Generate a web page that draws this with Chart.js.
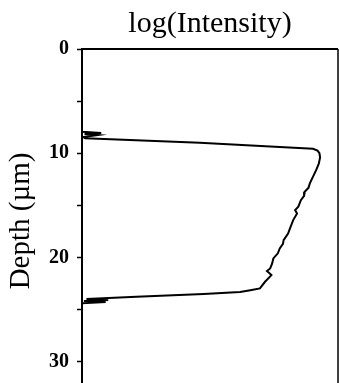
<!DOCTYPE html>
<html>
<head>
<meta charset="utf-8">
<script src="https://cdn.jsdelivr.net/npm/chart.js@4"></script>
<style>
  html, body { margin: 0; padding: 0; background: #fff; overflow: hidden; }
  canvas { display: block; }
</style>
</head>
<body>
<canvas id="profileChart" width="339" height="393"></canvas>
<script>
  // Perfil de intensidade ao longo da profundidade
  const depthUm = [0, 7.95, 8.05, 8.15, 8.25, 8.45, 8.57, 9.0, 9.35, 9.57, 9.75, 10.0, 10.4, 11.0,
    11.6, 12.25, 12.89, 13.3, 13.7, 14.1, 14.5, 15.13, 15.45, 15.77, 16.41, 17.2, 17.7, 18.33,
    18.7, 19.13, 19.6, 20.09, 20.6, 21.05, 21.3, 21.69, 22.33, 22.97, 23.15, 23.32, 23.51, 23.77,
    23.99, 24.08, 24.18, 24.28, 24.4, 33];
  const logIntensity = [0, 0, 0.30, 0.04, 0.25, 0.02, 0.05, 1.84, 2.94, 3.61, 3.68, 3.71, 3.72, 3.70,
    3.66, 3.61, 3.56, 3.54, 3.48, 3.47, 3.42, 3.38, 3.33, 3.36, 3.30, 3.25, 3.22, 3.15,
    3.14, 3.09, 3.06, 2.99, 2.97, 2.94, 2.89, 2.96, 2.86, 2.78, 2.63, 2.47, 1.90, 0.85,
    0.07, 0.41, 0.03, 0.37, 0, 0];
  const depthTicks = [0, 10, 20, 30];

  const points = depthUm.map((d, i) => ({ x: logIntensity[i], y: d }));

  // Bordas superior e direita da área do gráfico
  const frame = {
    id: 'frame',
    afterDraw(chart) {
      const a = chart.chartArea;
      const c = chart.ctx;
      c.save();
      c.strokeStyle = '#000';
      c.lineWidth = 2;
      c.beginPath();
      c.moveTo(a.left, a.top);
      c.lineTo(a.right, a.top);
      c.stroke();
      c.lineWidth = 1.5;
      c.beginPath();
      c.moveTo(a.right, a.top);
      c.lineTo(a.right, a.bottom);
      c.stroke();
      c.restore();
    }
  };

  const ctx = document.getElementById('profileChart').getContext('2d');
  new Chart(ctx, {
    type: 'scatter',
    data: {
      datasets: [{
        data: points,
        showLine: true,
        borderColor: '#000',
        borderWidth: 2,
        pointRadius: 0,
        tension: 0
      }]
    },
    options: {
      responsive: false,
      animation: false,
      layout: { padding: { left: 0, right: 1, top: 0, bottom: 0 } },
      plugins: {
        legend: { display: false },
        tooltip: { enabled: false },
        title: {
          display: true,
          text: 'log(Intensity)',
          fullSize: false,
          color: '#000',
          font: { family: 'Liberation Serif', size: 30, weight: 'normal', lineHeight: 1.2 },
          padding: { top: 6.5, bottom: 6.5 }
        }
      },
      scales: {
        x: {
          type: 'linear',
          display: false,
          min: 0,
          max: 4
        },
        y: {
          type: 'linear',
          reverse: true,
          min: 0,
          max: 33,
          afterFit(scale) {
            scale.width = 82;
            scale.paddingTop = 0;
            scale.paddingBottom = 0;
          },
          border: { display: true, color: '#000', width: 2 },
          grid: { drawOnChartArea: false, drawTicks: true, tickLength: 5, color: '#000', tickWidth: 1.5 },
          ticks: {
            stepSize: 5,
            includeBounds: false,
            padding: 8,
            color: '#000',
            font: { family: 'Liberation Serif', size: 20, weight: 'bold' },
            callback: v => depthTicks.includes(v) ? String(v) : ''
          },
          title: {
            display: true,
            text: 'Depth (µm)',
            color: '#000',
            font: { family: 'Liberation Serif', size: 29, weight: 'normal', lineHeight: 1.2 },
            padding: { top: 4, bottom: 0 }
          }
        }
      }
    },
    plugins: [frame]
  });
</script>
</body>
</html>
